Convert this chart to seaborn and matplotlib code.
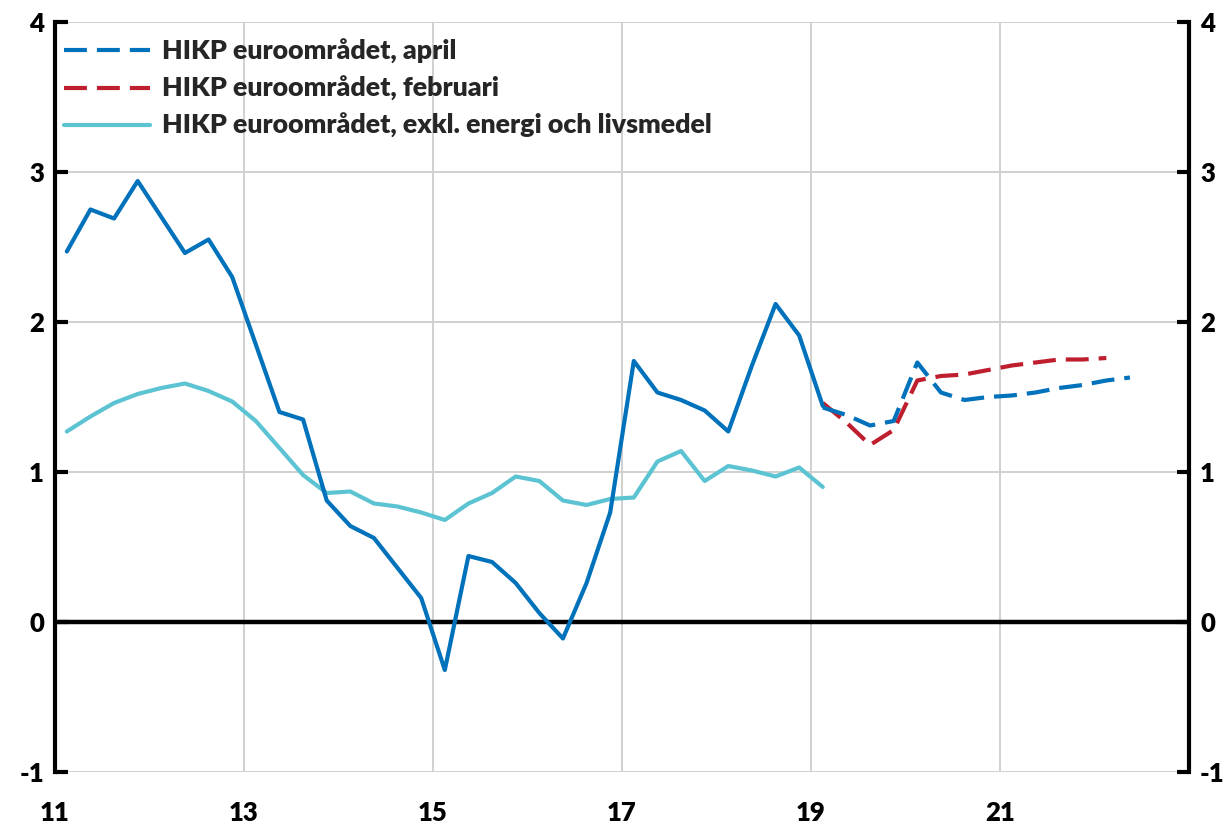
import numpy as np
import pandas as pd
import matplotlib
matplotlib.use("Agg")
import matplotlib.pyplot as plt
import seaborn as sns
from matplotlib.lines import Line2D

# Quarterly data, first observation 2011 Q1 (plotted mid-quarter, year axis "11".."23")
hikp_actual = [2.47, 2.75, 2.69, 2.94, 2.70, 2.46, 2.55, 2.30,
               1.85, 1.40, 1.35, 0.81, 0.64, 0.56, 0.36, 0.16,
               -0.32, 0.44, 0.40, 0.26, 0.06, -0.11, 0.26, 0.73,
               1.74, 1.53, 1.48, 1.41, 1.27, 1.71, 2.12, 1.91, 1.44]
hikp_core = [1.27, 1.37, 1.46, 1.52, 1.56, 1.59, 1.54, 1.47,
             1.34, 1.16, 0.98, 0.86, 0.87, 0.79, 0.77, 0.73,
             0.68, 0.79, 0.86, 0.97, 0.94, 0.81, 0.78, 0.82,
             0.83, 1.07, 1.14, 0.94, 1.04, 1.01, 0.97, 1.03, 0.90]
# Forecasts start at 2019 Q1
hikp_april = [1.43, 1.38, 1.31, 1.34, 1.73, 1.53, 1.48, 1.50,
              1.51, 1.53, 1.56, 1.58, 1.61, 1.63]
hikp_feb = [1.46, 1.33, 1.18, 1.28, 1.61, 1.64, 1.65, 1.68,
            1.71, 1.73, 1.75, 1.75, 1.76]

labels = ["HIKP euroområdet, april",
          "HIKP euroområdet, februari",
          "HIKP euroområdet, exkl. energi och livsmedel"]
x_ticks = [11, 13, 15, 17, 19, 21]
y_ticks = [-1, 0, 1, 2, 3, 4]


def quarters(start_year, start_q, n):
    return [start_year + (start_q - 1) / 4 + 0.125 + i / 4 for i in range(n)]


df_act = pd.DataFrame({"x": quarters(11, 1, len(hikp_actual)), "y": hikp_actual})
df_core = pd.DataFrame({"x": quarters(11, 1, len(hikp_core)), "y": hikp_core})
df_apr = pd.DataFrame({"x": quarters(19, 1, len(hikp_april)), "y": hikp_april})
df_feb = pd.DataFrame({"x": quarters(19, 1, len(hikp_feb)), "y": hikp_feb})

sns.set_theme(style="white")
plt.rcParams["font.family"] = ["Lato", "DejaVu Sans"]
plt.rcParams["font.weight"] = "bold"

DARK = "#0071BB"
RED = "#BE1E2D"
LIGHT = "#5CC3D2"

fig = plt.figure(figsize=(12.29, 8.26), dpi=100)
ax = fig.add_axes([55 / 1229, 1 - 772 / 826, (1189 - 55) / 1229, (772 - 22) / 826])

lw = 3.0
dash = (5.5, 2.4)
sns.lineplot(data=df_feb, x="x", y="y", ax=ax, color=RED, lw=lw, zorder=4)
ax.lines[-1].set_dashes(dash)
sns.lineplot(data=df_apr, x="x", y="y", ax=ax, color=DARK, lw=lw, zorder=5)
ax.lines[-1].set_dashes(dash)
sns.lineplot(data=df_core, x="x", y="y", ax=ax, color=LIGHT, lw=lw, zorder=4)
sns.lineplot(data=df_act, x="x", y="y", ax=ax, color=DARK, lw=lw, zorder=6)

ax.axhline(0, color="black", lw=3.2, zorder=3)

ax.set_xlim(11, 23)
ax.set_ylim(-1, 4)
ax.set_xticks(x_ticks)
ax.set_xticklabels([str(t) for t in x_ticks])
ax.set_yticks(y_ticks)
ax.set_yticklabels([str(t) for t in y_ticks])
ax.set_xlabel("")
ax.set_ylabel("")

ax.grid(True, color="#D0D0D0", lw=1.4, zorder=0)
ax.set_axisbelow(True)

for side in ["top", "bottom"]:
    ax.spines[side].set_visible(False)
for side in ["left", "right"]:
    ax.spines[side].set_visible(True)
    ax.spines[side].set_color("black")
    ax.spines[side].set_linewidth(3.0)

ax.tick_params(axis="y", which="both", left=True, right=True, labelleft=True,
               labelright=True, direction="in", length=9, width=3,
               color="black", labelsize=18.5, pad=8)
ax.tick_params(axis="x", bottom=False, length=0, labelsize=18.5, pad=21)
for lab in ax.get_xticklabels() + ax.get_yticklabels():
    lab.set_fontweight("heavy")
    lab.set_color("black")

handles = [
    Line2D([], [], color=DARK, lw=lw, dashes=dash),
    Line2D([], [], color=RED, lw=lw, dashes=dash),
    Line2D([], [], color=LIGHT, lw=lw),
]
leg = ax.legend(handles, labels, loc="upper left", bbox_to_anchor=(0.0, 0.99),
                frameon=False, prop={"weight": "heavy", "size": 19.3},
                handlelength=3.2, handletextpad=0.45, labelspacing=0.45,
                borderpad=0.3, borderaxespad=0.05)

fig.savefig("out.png", dpi=100)
